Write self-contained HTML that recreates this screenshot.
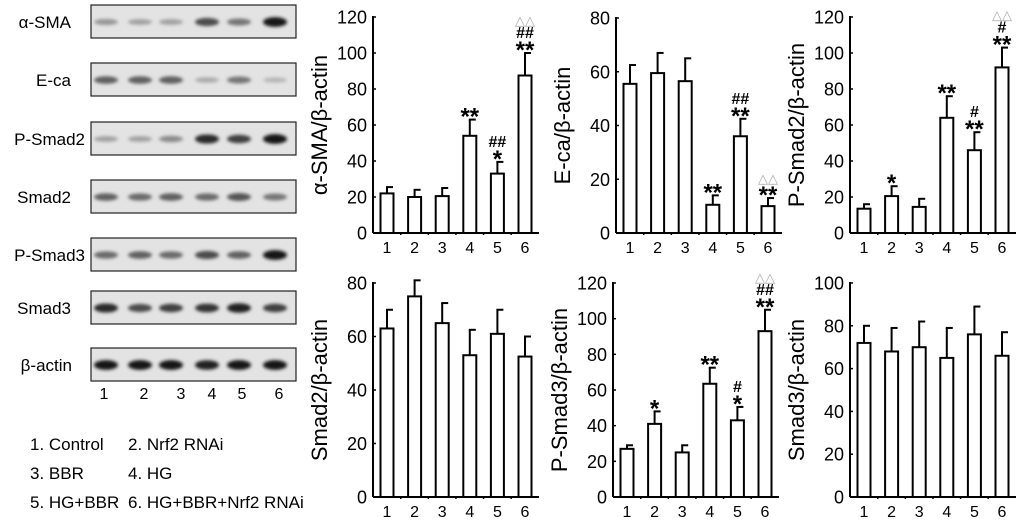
<!DOCTYPE html>
<html><head><meta charset="utf-8"><style>
html,body{margin:0;padding:0;background:#fff;}
svg{display:block;font-family:"Liberation Sans",Arial,sans-serif;}
</style></head><body>
<svg id="fig" width="1024" height="522" viewBox="0 0 1024 522" xmlns="http://www.w3.org/2000/svg">
<defs><filter id="blur" x="-50%" y="-50%" width="200%" height="200%"><feGaussianBlur stdDeviation="1.6"/></filter></defs>
<g id="blots"></g>
<g id="charts"></g>
</svg>
<script>
const NS="http://www.w3.org/2000/svg";
const categories=["1","2","3","4","5","6"];
const smaMean=[22,20,20.5,54,33,87.5];
const smaErr=[25.5,24,25,63,39.5,100];
const smaMarks=["","","","**","##\n*","△△\n##\n**"];
const ecaMean=[55.5,59.5,56.5,10.5,36,10];
const ecaErr=[62.5,67,65,14,42.5,13];
const ecaMarks=["","","","**","##\n**","△△\n**"];
const psmad2Mean=[13.5,20.5,14.5,64,46,92];
const psmad2Err=[16,26,19,76,56,103];
const psmad2Marks=["","*","","**","#\n**","△△\n#\n**"];
const smad2Mean=[63,75,65,53,61,52.5];
const smad2Err=[70,81,72.5,62.5,70,60];
const smad2Marks=["","","","","",""];
const psmad3Mean=[27,41,25,63.5,43,93];
const psmad3Err=[29,48,29,72.5,50.5,105];
const psmad3Marks=["","*","","**","#\n*","△△\n##\n**"];
const smad3Mean=[72,68,70,65,76,66];
const smad3Err=[80,79,82,79,89,77];
const smad3Marks=["","","","","",""];
const blotNames=["α-SMA","E-ca","P-Smad2","Smad2","P-Smad3","Smad3","β-actin"];
const blotIntensity=[
 [0.35,0.3,0.3,0.7,0.5,0.95],
 [0.6,0.6,0.6,0.25,0.5,0.2],
 [0.3,0.3,0.4,0.85,0.75,0.95],
 [0.6,0.55,0.6,0.55,0.65,0.5],
 [0.55,0.6,0.55,0.7,0.6,0.95],
 [0.85,0.7,0.75,0.8,0.9,0.75],
 [0.95,0.95,0.95,0.9,0.95,0.95]];
const legendItems=["1. Control","2. Nrf2 RNAi","3. BBR","4. HG","5. HG+BBR","6. HG+BBR+Nrf2 RNAi"];

function el(tag,attrs,parent,txt){const e=document.createElementNS(NS,tag);for(const k in attrs)e.setAttribute(k,attrs[k]);if(txt!==undefined)e.textContent=txt;parent.appendChild(e);return e;}

const bg=document.getElementById('blots');
const boxTops=[5,63,122,180,238,291,348];
const laneX=[106,140,171,207,239,275];
blotNames.forEach((n,i)=>{
 const y=boxTops[i];
 const t=el('text',{x:i==2||i==4?85:(i==6?72:71),y:y+23,'font-size':17,fill:'#000','text-anchor':'end'},bg,n);
 
 
 const r=el('rect',{x:91,y:y,width:205,height:33,fill:'#e3e3e3',stroke:'#222','stroke-width':1.2},bg);
 
 
 blotIntensity[i].forEach((v,j)=>{
  const g=Math.round(225-v*215);
  const b=el('ellipse',{cx:laneX[j],cy:y+17,rx:12,ry:2+v*3,fill:`rgb(${g},${g},${g})`,filter:'url(#blur)'},bg);
  
  
 });
});
const lanePos=[104,144,181,212,242,279];
categories.forEach((c,j)=>{const t=el('text',{x:lanePos[j],y:399,'font-size':16,'text-anchor':'middle'},bg,c);
 
 });
legendItems.forEach((s,i)=>{
 const t=el('text',{x:i%2==0?30:128,y:450+Math.floor(i/2)*29,'font-size':17},bg,s);
 
 
});

const cg=document.getElementById('charts');
function chart(ax,y0,yTop,max,step,mean,err,marks,title,name){
 const g=el('g',{},cg);
 
 
 const sy=v=>y0-(v/max)*(y0-yTop);
 const sx=i=>ax+14+i*27.6;
 const xEnd=ax+166;
 for(let v=0;v<=max;v+=step){
  const t=el('text',{x:ax-6,y:sy(v)+6.5,'font-size':18,'text-anchor':'end'},g,String(v));
  
  
  el('line',{x1:ax,x2:ax+3,y1:sy(v),y2:sy(v),stroke:'#000','stroke-width':1.5},g);
 }
 mean.forEach((m,i)=>{
  const x=sx(i);
  const e=el('line',{x1:x,x2:x,y1:sy(m),y2:sy(err[i]),stroke:'#000','stroke-width':2},g);
  
  
  el('line',{x1:x-1,x2:x+6,y1:sy(err[i]),y2:sy(err[i]),stroke:'#000','stroke-width':2},g);
  const b=el('rect',{x:x-6.5,y:sy(m),width:13,height:y0-sy(m),fill:'#fff',stroke:'#000','stroke-width':2},g);
  
  
  const t=el('text',{x:x,y:y0+20,'font-size':16,'text-anchor':'middle'},g,categories[i]);
  
  
  if(i<5) el('rect',{x:x+13,y:y0-1,width:1.5,height:3,fill:'#000'},g);
  if(marks[i]){
   const lines=marks[i].split('\n').reverse();
   let yy=sy(err[i])+5;
   lines.forEach((s,k)=>{
    const isStar=s.includes('*');
    const tri=s.includes('△');
    const t=el('text',{x:x,y:yy,'font-size':isStar?24:tri?13:16,'font-weight':tri?'normal':'bold','text-anchor':'middle',fill:tri?'#aaa':'#000'},g,s);
    
    
    yy-= isStar?20:13;
   });
  }
 });
 el('line',{x1:ax,x2:ax,y1:yTop-1,y2:y0,stroke:'#000','stroke-width':2},g);
 el('line',{x1:ax,x2:xEnd,y1:y0,y2:y0,stroke:'#000','stroke-width':2},g);
 const cy=(y0+yTop)/2;
 const tt=el('text',{x:ax-46,y:cy,'font-size':22,'text-anchor':'middle',transform:`rotate(-90 ${ax-46} ${cy})`},g,title);
 
 
}
chart(373,233,17,120,20,smaMean,smaErr,smaMarks,'α-SMA/β-actin','chart-alpha-sma');
chart(616,233,18,80,20,ecaMean,ecaErr,ecaMarks,'E-ca/β-actin','chart-e-ca');
chart(850,233,17,120,20,psmad2Mean,psmad2Err,psmad2Marks,'P-Smad2/β-actin','chart-p-smad2');
chart(373,497,283,80,20,smad2Mean,smad2Err,smad2Marks,'Smad2/β-actin','chart-smad2');
chart(613,497,283,120,20,psmad3Mean,psmad3Err,psmad3Marks,'P-Smad3/β-actin','chart-p-smad3');
chart(850,497,283,100,20,smad3Mean,smad3Err,smad3Marks,'Smad3/β-actin','chart-smad3');
</script>
</body></html>
